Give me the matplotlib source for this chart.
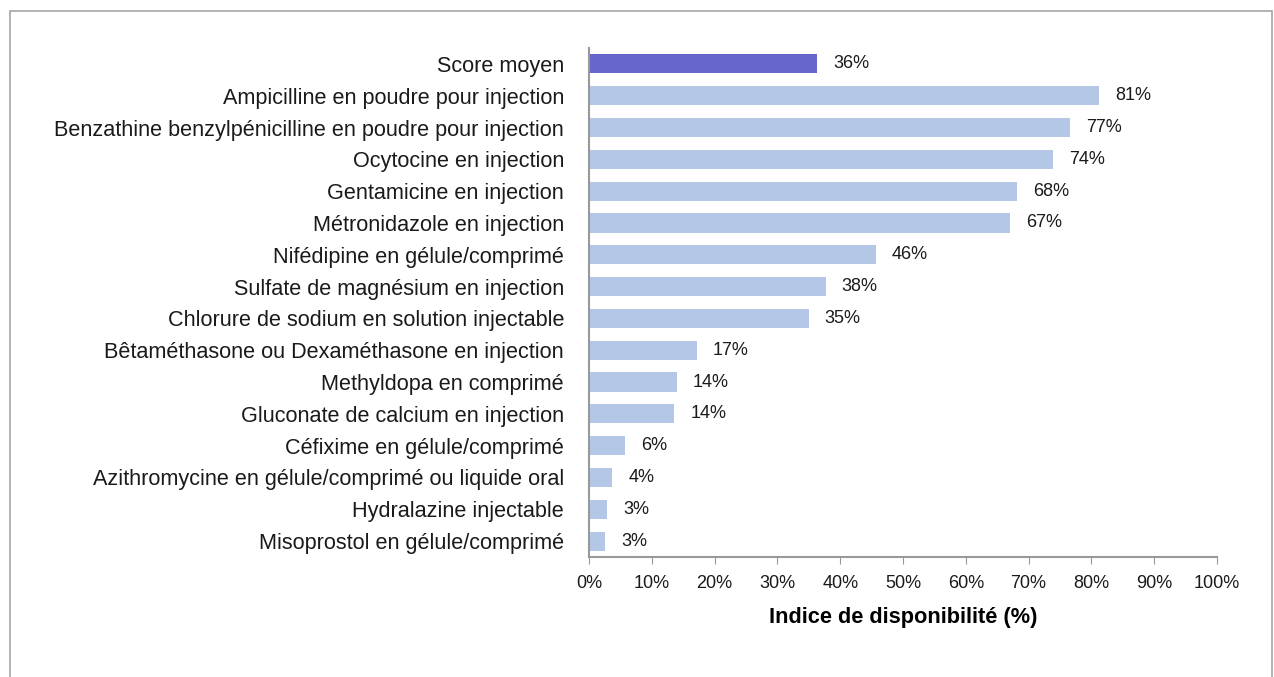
import matplotlib
matplotlib.use("Agg")
import matplotlib.pyplot as plt
from matplotlib.patches import Rectangle
from matplotlib.ticker import PercentFormatter

categories = [
    "Score moyen",
    "Ampicilline en poudre pour injection",
    "Benzathine benzylpénicilline en poudre pour injection",
    "Ocytocine en injection",
    "Gentamicine en injection",
    "Métronidazole en injection",
    "Nifédipine en gélule/comprimé",
    "Sulfate de magnésium en injection",
    "Chlorure de sodium en solution injectable",
    "Bêtaméthasone ou Dexaméthasone en injection",
    "Methyldopa en comprimé",
    "Gluconate de calcium en injection",
    "Céfixime en gélule/comprimé",
    "Azithromycine en gélule/comprimé ou liquide oral",
    "Hydralazine injectable",
    "Misoprostol en gélule/comprimé",
]
values = [36.3, 81.2, 76.6, 73.9, 68.2, 67.0, 45.7, 37.7, 35.0,
          17.2, 14.0, 13.6, 5.7, 3.7, 2.9, 2.6]
xticks = list(range(0, 101, 10))

plt.rcParams["font.family"] = ["Liberation Sans", "DejaVu Sans"]

fig = plt.figure(figsize=(12.74, 6.77), dpi=100)
ax = fig.add_axes([589 / 1274, 1 - 557 / 677, 628 / 1274, 509 / 677])

colors = ["#6666cc"] + ["#b4c7e7"] * (len(values) - 1)
pos = list(range(len(values)))
ax.barh(pos, values, height=0.6, color=colors)
for p, v in zip(pos, values):
    ax.annotate(f"{v:.0f}%", (v, p), xytext=(11.5, 0), textcoords="offset points",
                va="center", ha="left", fontsize=13, color="#1a1a1a")

ax.set_yticks(pos)
ax.set_yticklabels(categories, fontsize=15.6, color="#1a1a1a")
ax.set_ylim(len(values) - 0.5, -0.5)
ax.set_xlim(0, 100)
ax.set_xticks(xticks)
ax.xaxis.set_major_formatter(PercentFormatter(decimals=0))
ax.tick_params(axis="x", labelsize=13, colors="#1a1a1a", length=5, color="#999999", pad=8)
ax.tick_params(axis="y", length=0, pad=18)
ax.set_xlabel("Indice de disponibilité (%)", fontsize=15.7, fontweight="bold", labelpad=11)

for s in ["top", "right"]:
    ax.spines[s].set_visible(False)
ax.spines["left"].set_color("#999999")
ax.spines["bottom"].set_color("#999999")
ax.spines["left"].set_linewidth(1.5)
ax.spines["bottom"].set_linewidth(1.5)

fig.patches.append(Rectangle((10 / 1274, -0.05), 1262 / 1274, 1.05 - 11 / 677,
                             transform=fig.transFigure, fill=False,
                             edgecolor="#a6a6a6", linewidth=1.2))

fig.savefig("out.png", dpi=100)
